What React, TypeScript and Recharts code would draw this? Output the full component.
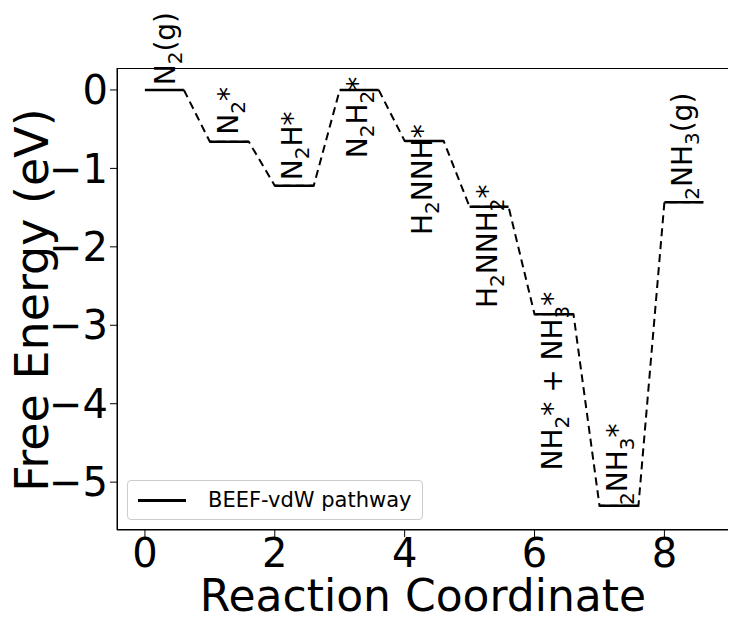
import { Line, Scatter, XAxis, YAxis, ComposedChart } from 'recharts';

const steps = [0, 1, 2, 3, 4, 5, 6, 7, 8];
const energies = [0, -0.66, -1.22, 0.0, -0.65, -1.49, -2.86, -5.3, -1.43];

// label anchors (x, y at text start) in data units
const labelX = [0.28, 1.25, 2.23, 3.24, 4.24, 5.24, 6.24, 7.24, 8.24];
const labelY = [0.06, -0.57, -1.15, -0.87, -1.85, -2.78, -4.85, -5.29, -1.40];
// label parts: [text, kind] where kind n = normal, s = subscript
const labelParts: [string, string][][] = [
  [['N', 'n'], ['2', 's'], ['(g)', 'n']],
  [['N', 'n'], ['2', 's'], ['*', 'n']],
  [['N', 'n'], ['2', 's'], ['H*', 'n']],
  [['N', 'n'], ['2', 's'], ['H', 'n'], ['2', 's'], ['*', 'n']],
  [['H', 'n'], ['2', 's'], ['NNH*', 'n']],
  [['H', 'n'], ['2', 's'], ['NNH', 'n'], ['2', 's'], ['*', 'n']],
  [['NH', 'n'], ['2', 's'], ['* + NH', 'n'], ['3', 's'], ['*', 'n']],
  [['2', 's'], ['NH', 'n'], ['3', 's'], ['*', 'n']],
  [['2', 's'], ['NH', 'n'], ['3', 's'], ['(g)', 'n']],
];

const yTicks = [0, -1, -2, -3, -4, -5];
const xTicks = [0, 2, 4, 6, 8];

const rows: any[] = [];
steps.forEach((s, i) => {
  const e = energies[i];
  rows.push({ x: s, solid: e, dashed: e });
  rows.push({ x: s + 0.6, solid: e, dashed: e });
  if (i < steps.length - 1) rows.push({ x: s + 0.8, solid: null });
});
const labelData = steps.map((_, i) => ({ x: labelX[i], ly: labelY[i], idx: i }));

const font = 'DejaVu Sans, sans-serif';

const RotLabel = (props: any) => {
  const { cx, cy, payload } = props;
  const x = cx + 12;
  const parts = labelParts[payload.idx];
  let prev = 'n';
  return (
    <text x={x} y={cy} transform={`rotate(-90 ${x} ${cy})`} dy={10} fontSize={28} fontFamily={font} fill="#000">
      {parts.map(([t, k], j) => {
        const dy = k === prev ? 0 : k === 's' ? 7 : -7;
        prev = k;
        return (
          <tspan key={j} dy={dy} fontSize={k === 's' ? 20 : 28}>
            {t}
          </tspan>
        );
      })}
    </text>
  );
};

const fmt = (v: number) => (v < 0 ? `\u2212${Math.abs(v)}` : `${v}`);

export default function App() {
  return (
    <div style={{ position: 'relative', width: 736, height: 628, margin: -8, fontFamily: font, overflow: 'hidden' }}>
      <ComposedChart width={736} height={628} data={rows} margin={{ top: 68, right: 6, bottom: 0, left: 0 }}>
        <XAxis
          dataKey="x"
          type="number"
          domain={[-0.43, 9.01]}
          ticks={xTicks}
          height={98}
          tickSize={7}
          stroke="#000"
          tick={{ fontSize: 40, fill: '#000', fontFamily: font }}
        />
        <YAxis
          type="number"
          domain={[-5.61, 0.28]}
          ticks={yTicks}
          width={117}
          tickSize={7}
          tickFormatter={fmt}
          stroke="#000"
          tick={{ fontSize: 40, fill: '#000', fontFamily: font }}
        />
        <Line dataKey="dashed" stroke="#000" strokeWidth={2} strokeDasharray="8 5" dot={false} connectNulls isAnimationActive={false} />
        <Line dataKey="solid" stroke="#000" strokeWidth={2.5} dot={false} connectNulls={false} isAnimationActive={false} />
        <Scatter data={labelData} dataKey="ly" shape={<RotLabel />} isAnimationActive={false} />
      </ComposedChart>
      <div style={{ position: 'absolute', left: 117, top: 68, width: 613, height: 462, border: '1px solid #000', boxSizing: 'border-box', pointerEvents: 'none' }} />
      <div style={{ position: 'absolute', left: 0, width: 736, paddingLeft: 110, boxSizing: 'border-box', top: 570, textAlign: 'center', fontSize: 44, lineHeight: '52px' }}>
        Reaction Coordinate
      </div>
      <div style={{ position: 'absolute', left: 32, top: 300, width: 500, marginLeft: -250, marginTop: -26, textAlign: 'center', fontSize: 46, lineHeight: '52px', transform: 'rotate(-90deg)' }}>
        Free Energy (eV)
      </div>
      <div style={{ position: 'absolute', left: 127, top: 480, width: 296, height: 40, border: '1px solid #ccc', borderRadius: 4, background: '#fff', display: 'flex', alignItems: 'center', boxSizing: 'border-box' }}>
        <div style={{ width: 48, height: 0, borderTop: '3px solid #000', marginLeft: 10, marginRight: 22 }} />
        <span style={{ fontSize: 21 }}>BEEF-vdW pathway</span>
      </div>
    </div>
  );
}
